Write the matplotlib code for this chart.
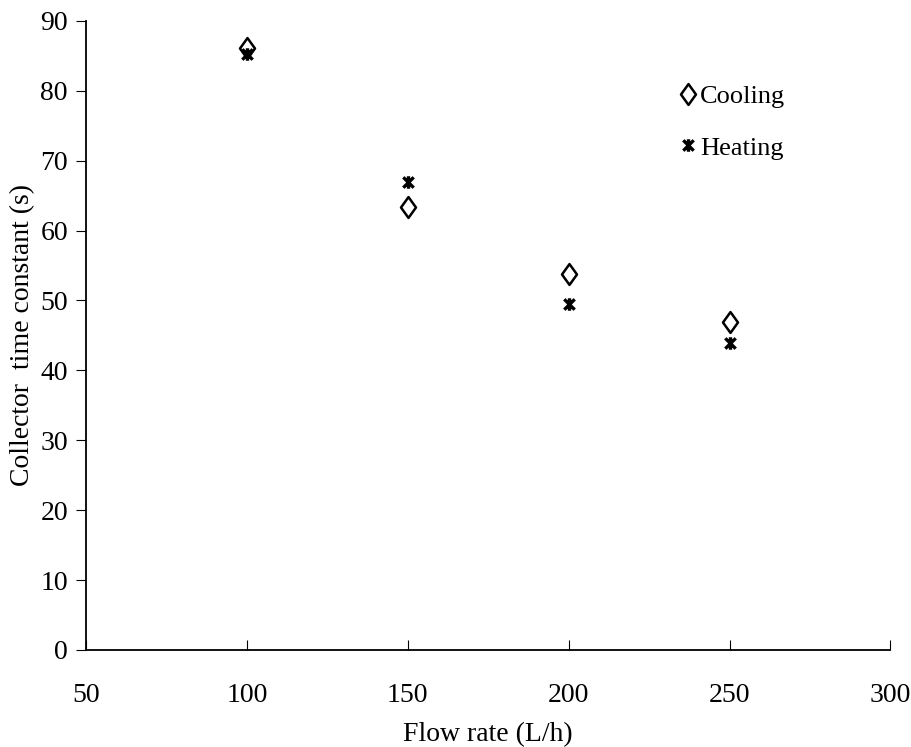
import numpy as np
import matplotlib
matplotlib.use('Agg')
import matplotlib.pyplot as plt
from matplotlib.path import Path

flow = [100, 150, 200, 250]
cooling = [86.1, 63.4, 53.8, 46.9]
heating = [85.3, 67.0, 49.5, 43.9]

plt.rcParams['font.family'] = ['Liberation Serif', 'DejaVu Serif']

# Excel-style star marker: an X with a vertical stroke through it
star = Path([(-1, -1), (1, 1), (-1, 1), (1, -1), (0, -1.2), (0, 1.2)],
            [Path.MOVETO, Path.LINETO, Path.MOVETO, Path.LINETO, Path.MOVETO, Path.LINETO])
# slightly tall diamond like the original
diamond = Path([(0, 1), (0.72, 0), (0, -1), (-0.72, 0), (0, 1)],
               [Path.MOVETO, Path.LINETO, Path.LINETO, Path.LINETO, Path.CLOSEPOLY])

fig = plt.figure(figsize=(9.12, 7.47), dpi=100)
ax = fig.add_axes([0.0943, 0.13, 0.882, 0.842])

ax.plot(flow, cooling, linestyle='none', marker=diamond, markersize=15, markerfacecolor='white',
        markeredgecolor='black', markeredgewidth=1.8, label='Cooling')
ax.plot(flow, heating, linestyle='none', marker=star, markersize=9, color='black',
        markeredgewidth=2.4, label='Heating')

ax.set_xlim(50, 300)
ax.set_ylim(0, 90)
ax.set_xticks(np.arange(50, 301, 50))
ax.set_yticks(np.arange(0, 91, 10))
ax.tick_params(axis='x', direction='in', length=7, labelsize=20, pad=24)
ax.tick_params(axis='y', direction='out', length=7, labelsize=20, pad=6)
for s in ['top', 'right']:
    ax.spines[s].set_visible(False)
for s in ['left', 'bottom']:
    ax.spines[s].set_linewidth(1.3)

ax.set_xlabel('Flow rate (L/h)', fontsize=20, labelpad=10)
ax.set_ylabel('Collector  time constant (s)', fontsize=20, labelpad=4)

leg = ax.legend(loc='upper left', bbox_to_anchor=(0.727, 0.915), frameon=False, fontsize=19,
                handlelength=0.5, handletextpad=0.2, labelspacing=1.05, borderaxespad=0)

fig.savefig('out.png', dpi=100)
